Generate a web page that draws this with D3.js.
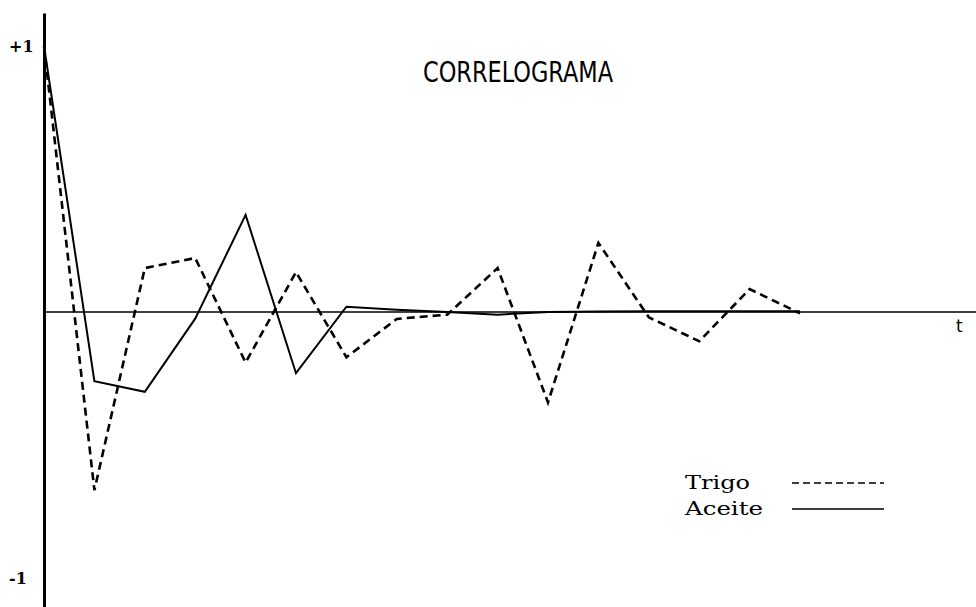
<!DOCTYPE html>
<html>
<head>
<meta charset="utf-8">
<script src="https://cdn.jsdelivr.net/npm/d3@7"></script>
<style>
    html, body { margin: 0; padding: 0; background: #fff; }
    svg { display: block; }
</style>
</head>
<body>
<svg id="chart" width="976" height="607"></svg>
<script>
// lags (t) and autocorrelation values
const lags = d3.range(0, 16);
const trigo = [1, -0.67, 0.165, 0.203, -0.19, 0.15, -0.17, -0.026, -0.01, 0.165, -0.34, 0.26, -0.02, -0.11, 0.086, -0.005];
const aceite = [1, -0.26, -0.30, -0.025, 0.365, -0.23, 0.02, 0.008, 0, -0.01, 0, 0.002, 0.003, 0.003, 0.003, 0.003];
const yTickValues = [1, -1];
const yTickLabels = ['+1', '-1'];
const seriesNames = ['Trigo', 'Aceite'];

const svg = d3.select('#chart');
const width = 976;

const x = d3.scaleLinear().domain([0, 15]).range([44, 800]);
const y = d3.scaleLinear().domain([-1, 1]).range([578, 46]);

// vertical axis (no ticks, just the heavy line)
const yAxisScale = y.copy().domain([y.invert(607), y.invert(13)]).range([607, 13]);
svg.append('g')
    .attr('transform', `translate(${x(0)},0)`)
    .call(d3.axisLeft(yAxisScale).tickValues([]).tickSizeOuter(0))
    .call((g) => g.select('.domain').attr('stroke', '#000').attr('stroke-width', 3));

svg.selectAll('.ylab')
    .data(yTickValues)
    .join('text')
    .attr('class', 'ylab')
    .attr('x', 9)
    .attr('y', (d) => y(d) + 6)
    .attr('font-family', 'DejaVu Serif')
    .attr('font-size', 16)
    .attr('font-weight', 'bold')
    .text((d, i) => yTickLabels[i]);

// zero line out to t
svg.append('line')
    .attr('x1', x(0))
    .attr('x2', width)
    .attr('y1', y(0))
    .attr('y2', y(0))
    .attr('stroke', '#000')
    .attr('stroke-width', 1.6);

svg.append('text')
    .attr('x', 956)
    .attr('y', y(0) + 20)
    .attr('font-family', 'DejaVu Sans')
    .attr('font-size', 17)
    .text('t');

const line = d3.line()
    .x((d, i) => x(lags[i]))
    .y((d) => y(d));

svg.append('path')
    .datum(aceite)
    .attr('d', line)
    .attr('fill', 'none')
    .attr('stroke', '#000')
    .attr('stroke-width', 2);

svg.append('path')
    .datum(trigo)
    .attr('d', line)
    .attr('fill', 'none')
    .attr('stroke', '#000')
    .attr('stroke-width', 2.6)
    .attr('stroke-dasharray', '8,5');

// title
svg.append('text')
    .attr('x', 423)
    .attr('y', 82)
    .attr('font-family', 'DejaVu Sans Condensed, DejaVu Sans')
    .attr('font-size', 29)
    .attr('textLength', 190)
    .attr('lengthAdjust', 'spacingAndGlyphs')
    .text('CORRELOGRAMA');

// legend (typewriter-like serif)
const legend = svg.append('g').attr('transform', 'translate(685,489)');
seriesNames.forEach((name, i) => {
    const row = legend.append('g').attr('transform', `translate(0,${i * 26})`);
    row.append('text')
        .attr('font-family', 'DejaVu Serif')
        .attr('font-size', 18)
        .attr('textLength', name.length * 13)
        .attr('lengthAdjust', 'spacingAndGlyphs')
        .text(name);
    row.append('line')
        .attr('x1', 107)
        .attr('x2', 199)
        .attr('y1', -6)
        .attr('y2', -6)
        .attr('stroke', '#000')
        .attr('stroke-width', 1.4)
        .attr('stroke-dasharray', i === 0 ? '7,4' : null);
});
</script>
</body>
</html>
